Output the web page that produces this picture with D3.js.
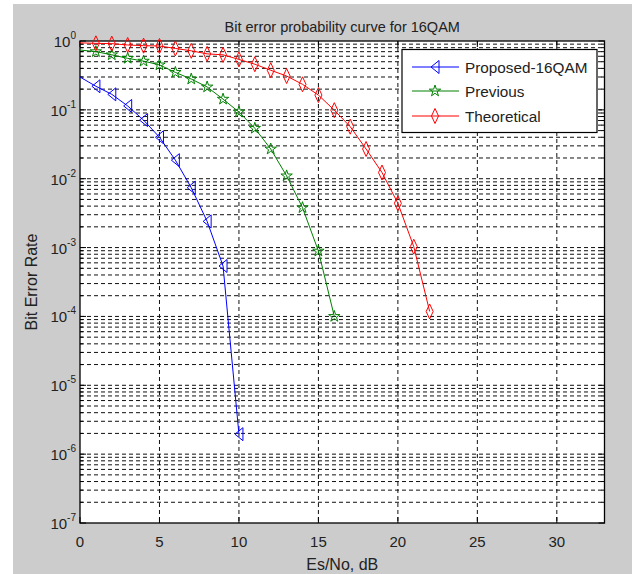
<!DOCTYPE html>
<html><head><meta charset="utf-8">
<script src="https://cdn.jsdelivr.net/npm/d3@7"></script>
<style>body{margin:0;background:#fff}svg{display:block;font-family:"Liberation Sans",Arial,sans-serif}</style>
</head><body>
<script>
const title = "Bit error probability curve for 16QAM";
const xLabel = "Es/No, dB";
const yLabel = "Bit Error Rate";
const xTicks = [0, 5, 10, 15, 20, 25, 30];
const yExponents = [0, -1, -2, -3, -4, -5, -6, -7];

const proposedX = [0,1,2,3,4,5,6,7,8,9,10];
const proposedY = [0.30,0.22,0.168,0.114,0.071,0.040,0.0186,0.0074,0.0024,5.4e-4,1.95e-6];
const previousX = [0,1,2,3,4,5,6,7,8,9,10,11,12,13,14,15,16];
const previousY = [0.74,0.70,0.63,0.56,0.51,0.45,0.35,0.28,0.215,0.143,0.093,0.054,0.027,0.011,0.0038,8.9e-4,1.0e-4];
const theoreticalX = [0,1,2,3,4,5,6,7,8,9,10,11,12,13,14,15,16,17,18,19,20,21,22];
const theoreticalY = [0.94,0.925,0.915,0.875,0.855,0.846,0.78,0.72,0.65,0.63,0.54,0.46,0.376,0.31,0.235,0.164,0.099,0.057,0.027,0.0123,0.0044,1.03e-3,1.18e-4];

const seriesNames = ["Proposed-16QAM","Previous","Theoretical"];
const seriesColors = ["#0000ff","#008000","#ff0000"];
const seriesMarkers = ["triLeft","star","diamond"];

const W = 632, H = 574;
const m = {left:80, right:632-604.5, top:41, bottom:574-523};
const svg = d3.select("body").append("svg").attr("width",W).attr("height",H);
svg.append("rect").attr("x",13).attr("y",4).attr("width",W-13).attr("height",H-4).attr("fill","#cccccc");

const x = d3.scaleLinear().domain([0,33]).range([m.left, W-m.right]);
const y = d3.scaleLog().domain([1e-7,1]).range([H-m.bottom, m.top]);

svg.append("rect").attr("x",x(0)).attr("y",y(1)).attr("width",x(33)-x(0)).attr("height",y(1e-7)-y(1)).attr("fill","#fff");

const g = svg.append("g");
const dash = "4,3";
const yGridVals = [];
for (let e=-7; e<0; e++) for (let k=1;k<=9;k++) yGridVals.push(k*Math.pow(10,e));
yGridVals.push(1);
g.selectAll(".yg").data(yGridVals.filter(v=>v>1e-7 && v<1)).enter().append("line")
  .attr("x1",x(0)).attr("x2",x(33)).attr("y1",d=>y(d)).attr("y2",d=>y(d))
  .attr("stroke","#111").attr("stroke-width",1).attr("stroke-dasharray",dash);
g.selectAll(".xg").data(xTicks.filter(v=>v>0)).enter().append("line")
  .attr("x1",d=>x(d)).attr("x2",d=>x(d)).attr("y1",y(1)).attr("y2",y(1e-7))
  .attr("stroke","#111").attr("stroke-width",1).attr("stroke-dasharray",dash);

const tk = svg.append("g").attr("stroke","#000").attr("stroke-width",1);
xTicks.forEach(v=>{
  tk.append("line").attr("x1",x(v)).attr("x2",x(v)).attr("y1",y(1e-7)).attr("y2",y(1e-7)-6);
  tk.append("line").attr("x1",x(v)).attr("x2",x(v)).attr("y1",y(1)).attr("y2",y(1)+6);
});
yGridVals.forEach(v=>{
  const major = Math.abs(Math.log10(v)-Math.round(Math.log10(v)))<1e-9;
  const L = major?6:3;
  tk.append("line").attr("x1",x(0)).attr("x2",x(0)+L).attr("y1",y(v)).attr("y2",y(v));
  tk.append("line").attr("x1",x(33)).attr("x2",x(33)-L).attr("y1",y(v)).attr("y2",y(v));
});
svg.append("rect").attr("x",x(0)).attr("y",y(1)).attr("width",x(33)-x(0)).attr("height",y(1e-7)-y(1))
  .attr("fill","none").attr("stroke","#000").attr("stroke-width",1.3);

svg.selectAll(".xl").data(xTicks).enter().append("text")
  .attr("x",d=>x(d)).attr("y",y(1e-7)+24).attr("text-anchor","middle")
  .attr("font-size",15).attr("fill","#222").text(d=>d);
yExponents.forEach(e=>{
  const t = svg.append("text").attr("x",76).attr("y",y(Math.pow(10,e))+6).attr("text-anchor","end")
    .attr("font-size",15).attr("fill","#222");
  t.append("tspan").text("10");
  t.append("tspan").attr("dy",-8).attr("font-size",10).text(e);
});

svg.append("text").attr("x",(x(0)+x(33))/2).attr("y",32).attr("text-anchor","middle")
  .attr("font-size",14.5).attr("fill","#222").text(title);
svg.append("text").attr("x",(x(0)+x(33))/2).attr("y",570).attr("text-anchor","middle")
  .attr("font-size",16).attr("fill","#222").text(xLabel);
svg.append("text").attr("transform","translate(37,282) rotate(-90)").attr("text-anchor","middle")
  .attr("font-size",16).attr("fill","#222").text(yLabel);

function markerPath(type){
  if (type==="triLeft") return "M-4,0L4,-6.5L4,6.5Z";
  if (type==="diamond") return "M0,-7.5L3.5,0L0,7.5L-3.5,0Z";
  return d3.symbol().type(d3.symbolStar).size(40)();
}

const series = [
  {xs:proposedX, ys:proposedY},
  {xs:previousX, ys:previousY},
  {xs:theoreticalX, ys:theoreticalY}
];
const line = d3.line().x(d=>x(d[0])).y(d=>y(d[1]));
series.forEach((s,i)=>{
  const pts = s.xs.map((v,j)=>[v,s.ys[j]]);
  svg.append("path").attr("d",line(pts)).attr("fill","none").attr("stroke",seriesColors[i]).attr("stroke-width",1);
  svg.selectAll(".mk"+i).data(pts.slice(1)).enter().append("path")
    .attr("transform",d=>`translate(${x(d[0])},${y(d[1])})`)
    .attr("d",markerPath(seriesMarkers[i])).attr("fill","none").attr("stroke",seriesColors[i]).attr("stroke-width",1);
});

const lg = svg.append("g");
lg.append("rect").attr("x",402).attr("y",49.5).attr("width",195).attr("height",83).attr("fill","#fff").attr("stroke","#000").attr("stroke-width",1.2);
const rowsY = [67,91,116];
seriesNames.forEach((n,i)=>{
  lg.append("line").attr("x1",412).attr("x2",459).attr("y1",rowsY[i]).attr("y2",rowsY[i]).attr("stroke",seriesColors[i]).attr("stroke-width",1);
  lg.append("path").attr("transform",`translate(435,${rowsY[i]})`).attr("d",markerPath(seriesMarkers[i]))
    .attr("fill","none").attr("stroke",seriesColors[i]).attr("stroke-width",1);
  lg.append("text").attr("x",465).attr("y",rowsY[i]+5.5).attr("font-size",15.3).attr("fill","#222").text(n);
});
</script>
</body></html>
